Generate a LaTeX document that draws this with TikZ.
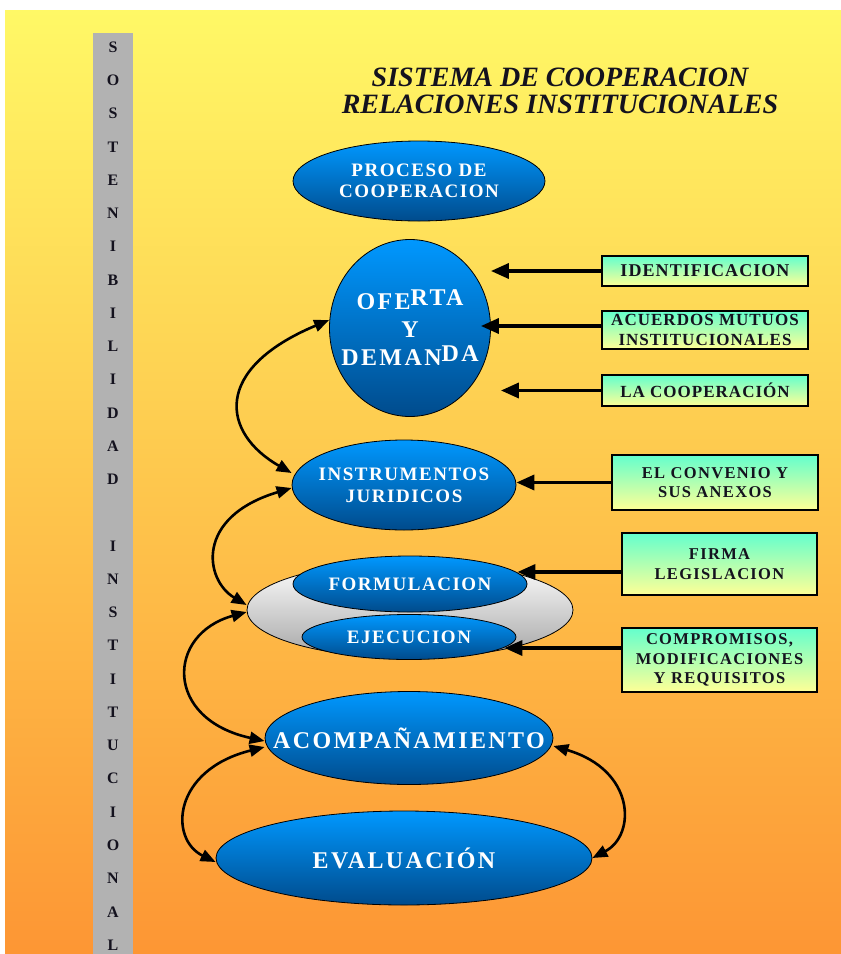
\documentclass[tikz,border=0pt]{standalone}
\usepackage{fontspec}
\setmainfont{Liberation Serif}
\newfontfamily\ovalfont[LetterSpace=8]{Liberation Serif}
\newfontfamily\widefont[LetterSpace=10]{Liberation Serif}
\newfontfamily\boxfont[LetterSpace=6]{Liberation Serif}
\newfontfamily\smallboxfont[LetterSpace=8]{Liberation Serif}
\usetikzlibrary{shapes.geometric,arrows.meta,positioning}

\definecolor{bgtop}{RGB}{255,248,102}
\definecolor{bgbot}{RGB}{253,150,52}
\definecolor{ovaltop}{RGB}{0,152,255}
\definecolor{ovalbot}{RGB}{0,75,140}
\definecolor{boxtop}{RGB}{100,255,205}
\definecolor{boxbot}{RGB}{255,255,150}
\definecolor{barfill}{RGB}{178,178,178}
\definecolor{inkdark}{RGB}{20,18,30}

\tikzset{
  oval/.style={ellipse, draw=black, line width=0.8pt, inner sep=0pt,
    top color=ovaltop, bottom color=ovalbot},
  ovaltext/.style={text=white, align=center,
    font=\ovalfont\bfseries\fontsize{19}{21}\selectfont},
  bigtext/.style={text=white, align=center,
    font=\widefont\bfseries\fontsize{24}{28}\selectfont},
  infobox/.style={draw=black, line width=1.4pt, inner sep=0pt,
    top color=boxtop, bottom color=boxbot, text=inkdark, align=center,
    font=\boxfont\bfseries\fontsize{17}{20}\selectfont},
  smallbox/.style={infobox, font=\smallboxfont\bfseries\fontsize{16.5}{19.5}\selectfont},
  barletter/.style={text=inkdark, font=\bfseries\fontsize{16}{16}\selectfont},
  feedarrow/.style={line width=3.5pt, -{Triangle[length=18pt,width=15pt]}},
  backlink/.style={line width=2.6pt,
    {Triangle[length=15pt,width=12pt]}-{Triangle[length=15pt,width=12pt]}},
}

\begin{document}
\begin{tikzpicture}[x=1pt,y=-1pt]
  \useasboundingbox (0,0) rectangle (841,954);
  \fill[white] (0,0) rectangle (841,954);
  \fill[top color=bgtop, bottom color=bgbot] (5,10) rectangle (841,954);

  % barra lateral
  \node[fill=barfill, minimum width=40pt, minimum height=921pt, inner sep=0pt] (sostbar) at (113,493.5) {};
  \foreach \ch [count=\i from 0] in {S,O,S,T,E,N,I,B,I,L,I,D,A,D,{},I,N,S,T,I,T,U,C,I,O,N,A,L}
    \node[barletter] (bar\i) at (113,{47+33.26*\i}) {\ch};

  % titulo
  \node[align=center, text=inkdark, font=\bfseries\itshape\fontsize{28}{27}\selectfont] (title) at (560,91)
    {SISTEMA DE COOPERACION\\RELACIONES INSTITUCIONALES};

  % ovalos
  \node[oval, minimum width=252pt, minimum height=80pt,
    label={[ovaltext]center:{PROCESO DE\\COOPERACION}}] (proceso) at (419,181) {};
  \node[oval, minimum width=161pt, minimum height=177pt,
    label={[bigtext]center:{OFE\raisebox{4pt}{RTA}\\Y\\DEMAN\raisebox{4pt}{DA}}}] (oferta) at (410,328) {};
  \node[oval, minimum width=224pt, minimum height=90pt,
    label={[ovaltext, font=\ovalfont\bfseries\fontsize{19}{22}\selectfont]center:{INSTRUMENTOS\\JURIDICOS}}] (instr) at (404,485) {};
  \node[ellipse, draw=black, line width=0.8pt, top color=white, bottom color=gray!70,
    minimum width=326pt, minimum height=96pt, inner sep=0pt] (etapas) at (410,610) {};
  \node[oval, minimum width=234pt, minimum height=56pt,
    label={[ovaltext]center:FORMULACION}] (form) at (410,584) {};
  \node[oval, minimum width=214pt, minimum height=45pt,
    label={[ovaltext]center:EJECUCION}] (ejec) at (409,637) {};
  \node[oval, minimum width=288pt, minimum height=93pt,
    label={[bigtext]center:ACOMPAÑAMIENTO}] (acomp) at (409,738) {};
  \node[oval, minimum width=376pt, minimum height=94pt,
    label={[bigtext]center:EVALUACIÓN}] (eval) at (404,858) {};

  % cuadros
  \node[infobox, minimum width=206pt, minimum height=30pt,
    font=\boxfont\bfseries\fontsize{18}{20}\selectfont] (idbox) at (705,271) {IDENTIFICACION};
  \node[infobox, minimum width=206pt, minimum height=38pt] (acuerdos) at (705,330) {ACUERDOS MUTUOS\\INSTITUCIONALES};
  \node[infobox, minimum width=206pt, minimum height=31pt] (lacoop) at (705,390.5) {LA COOPERACIÓN};
  \node[smallbox, minimum width=206pt, minimum height=55pt] (convenio) at (715,482.5) {EL CONVENIO Y\\SUS ANEXOS};
  \node[smallbox, minimum width=195pt, minimum height=62pt] (firma) at (719.5,564) {FIRMA\\LEGISLACION};
  \node[smallbox, minimum width=195pt, minimum height=64pt] (comp) at (719.5,660) {COMPROMISOS,\\MODIFICACIONES\\Y REQUISITOS};

  % flechas de entrada
  \draw[feedarrow] (idbox.west) -- (idbox.west -| oferta.east);
  \draw[feedarrow, shorten >=-10pt] ([yshift=4pt]acuerdos.west) -- ([yshift=4pt]acuerdos.west -| oferta.east);
  \draw[feedarrow, shorten >=10pt] (lacoop.west) -- (lacoop.west -| oferta.east);
  \draw[feedarrow] (convenio.west) -- (convenio.west -| instr.east);
  \draw[feedarrow, shorten >=-10pt] ([yshift=-8pt]firma.west) -- ([yshift=-8pt]firma.west -| form.east);
  \draw[feedarrow, shorten >=-12pt] ([yshift=12pt]comp.west) -- ([yshift=12pt]comp.west -| ejec.east);

  % enlaces curvos
  \draw[backlink] ([yshift=8pt]oferta.west) .. controls +(-117,49) and +(-70,-40) .. ([yshift=12pt]instr.west);
  \draw[backlink] ([yshift=-3pt]instr.west) .. controls +(-97,29) and +(-42,-25) .. ([yshift=5pt]etapas.west);
  \draw[backlink] ([yshift=-2pt]etapas.west) .. controls +(-80,22) and +(-101,-22) .. ([yshift=-3pt]acomp.west);
  \draw[backlink] ([yshift=-9pt]acomp.west) .. controls +(-92,23) and +(-47,-23) .. ([yshift=-4pt]eval.west);
  \draw[backlink] ([yshift=-8pt]acomp.east) .. controls +(82,24) and +(44,-23) .. (eval.east);
\end{tikzpicture}
\end{document}
